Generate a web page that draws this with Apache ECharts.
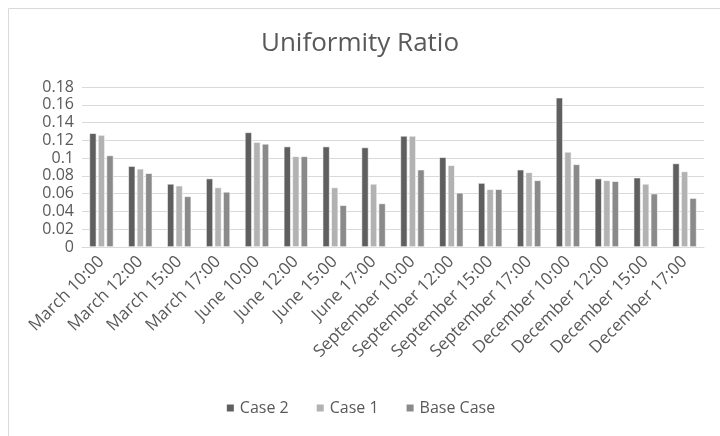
<!DOCTYPE html>
<html><head><meta charset="utf-8">
<script src="https://cdn.jsdelivr.net/npm/echarts@6/dist/echarts.min.js"></script>
<style>html,body{margin:0;padding:0;background:#fff}#c{width:720px;height:436px}</style>
</head><body><div id="c"></div>
<script>
const categories = ["March 10:00","March 12:00","March 15:00","March 17:00","June 10:00","June 12:00","June 15:00","June 17:00","September 10:00","September 12:00","September 15:00","September 17:00","December 10:00","December 12:00","December 15:00","December 17:00"];
const case2 = [0.128,0.091,0.071,0.077,0.129,0.113,0.113,0.112,0.125,0.101,0.072,0.087,0.168,0.077,0.078,0.094];
const case1 = [0.126,0.088,0.069,0.067,0.118,0.102,0.067,0.071,0.125,0.092,0.065,0.084,0.107,0.075,0.071,0.085];
const baseCase = [0.103,0.083,0.057,0.062,0.116,0.102,0.047,0.049,0.087,0.061,0.065,0.075,0.093,0.074,0.060,0.055];
const yTicks = {min:0,max:0.18,interval:0.02};

const chart = echarts.init(document.getElementById('c'));
const font = '"Open Sans", "Liberation Sans", sans-serif';
const mk = (name, data, color) => ({
  name, type:'bar', data, barWidth:7, barGap:'22%',
  itemStyle:{color, borderColor:'#ffffff', borderWidth:0.6},
  emphasis:{disabled:true}
});
chart.setOption({
  animation:false,
  textStyle:{fontFamily:font},
  graphic:[{type:'rect', shape:{x:8.5,y:8.5,width:740,height:460}, style:{fill:'none', stroke:'#d9d9d9', lineWidth:1}}],
  title:{text:'Uniformity Ratio', left:'center', top:26, textStyle:{fontFamily:font, fontSize:26, fontWeight:'normal', color:'#595959'}},
  grid:{left:82, right:16, top:87, bottom:189},
  legend:{bottom:15, left:'center', itemWidth:9, itemHeight:9, itemGap:26, icon:'rect',
    textStyle:{fontFamily:font, fontSize:16, color:'#595959'}},
  xAxis:{type:'category', data:categories,
    axisLine:{lineStyle:{color:'#d9d9d9'}}, axisTick:{show:false},
    axisLabel:{rotate:45, interval:0, fontSize:17, color:'#595959', margin:12, fontFamily:font}},
  yAxis:{type:'value', min:yTicks.min, max:yTicks.max, interval:yTicks.interval,
    axisLine:{show:false}, axisTick:{show:false},
    splitLine:{lineStyle:{color:'#d9d9d9', width:1}},
    axisLabel:{fontSize:16, color:'#595959', margin:8, fontFamily:font,
      formatter:v=>String(+v.toFixed(2))}},
  series:[mk('Case 2', case2, '#5f5f5f'), mk('Case 1', case1, '#b2b2b2'), mk('Base Case', baseCase, '#8a8a8a')]
});
</script></body></html>
